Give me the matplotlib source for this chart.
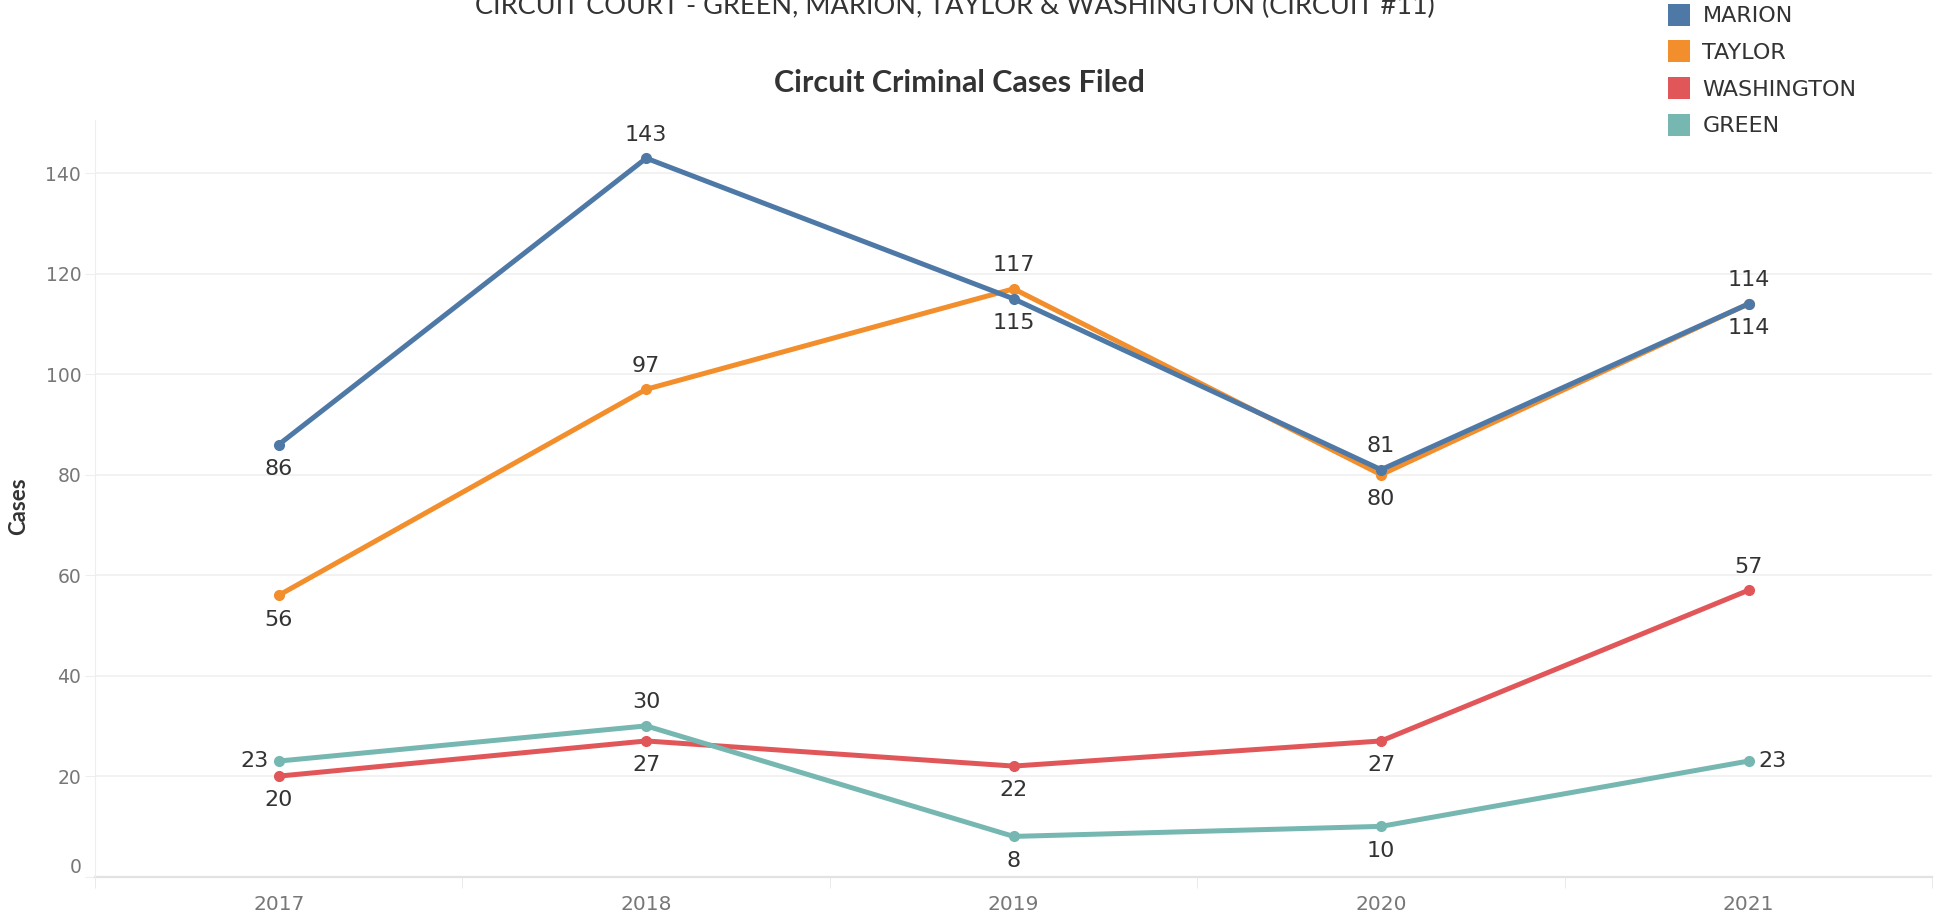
import matplotlib.pyplot as plt
from matplotlib.patches import Patch

# Datos
years = [2017, 2018, 2019, 2020, 2021]
marion = [86, 143, 115, 81, 114]
taylor = [56, 97, 117, 80, 114]
washington = [20, 27, 22, 27, 57]
green = [23, 30, 8, 10, 23]

series_names = ['MARION', 'TAYLOR', 'WASHINGTON', 'GREEN']
colores = {'MARION': '#4e79a7', 'TAYLOR': '#f28e2b',
           'WASHINGTON': '#e15759', 'GREEN': '#76b7b2'}
valores = {'MARION': marion, 'TAYLOR': taylor,
           'WASHINGTON': washington, 'GREEN': green}

# posicion de cada etiqueta: 'a' arriba, 'b' abajo, 'l' izquierda, 'r' derecha
pos_etiquetas = {
    'MARION': ['b', 'a', 'b', 'a', 'a'],
    'TAYLOR': ['b', 'a', 'a', 'b', 'b'],
    'WASHINGTON': ['b', 'b', 'b', 'b', 'a'],
    'GREEN': ['l', 'a', 'b', 'b', 'r'],
}
offsets = {'a': (0, 17, 'center', 'center'), 'b': (0, -17.5, 'center', 'center'),
           'l': (-7, 0, 'right', 'center'), 'r': (7, 0, 'left', 'center')}

fig = plt.figure(figsize=(19.4, 9.16), dpi=100)
ax = fig.add_axes([0.049, 0.043, 0.947, 0.826])

# orden de dibujo (Marion encima)
for nombre in ['WASHINGTON', 'GREEN', 'TAYLOR', 'MARION']:
    ys = valores[nombre]
    ax.plot(years, ys, color=colores[nombre], lw=3.6, marker='o', ms=7,
            solid_capstyle='round', zorder=3, clip_on=False)
    for x, y, p in zip(years, ys, pos_etiquetas[nombre]):
        dx, dy, ha, va = offsets[p]
        ax.annotate(str(y), (x, y), xytext=(dx, dy), textcoords='offset points',
                    ha=ha, va=va, fontsize=16, color='#333333', zorder=4)

ax.set_xlim(2016.5, 2021.5)
ax.set_ylim(0, 150.6)
ax.set_yticks(range(0, 141, 20))
ax.set_xticks(years)
ax.set_xticks([2016.5, 2017.5, 2018.5, 2019.5, 2020.5, 2021.5], minor=True)
ax.grid(axis='y', color='#f0f0f0', lw=1.2, zorder=0)

for lado in ['top', 'right']:
    ax.spines[lado].set_visible(False)
ax.spines['left'].set_color('#eeeeee')
ax.spines['bottom'].set_color('#e2e2e2')
ax.spines['bottom'].set_linewidth(1.6)
ax.spines['bottom'].set_zorder(2)

ax.tick_params(axis='y', length=7, color='#eeeeee', labelsize=13.5,
               labelcolor='#777777', pad=3)
ax.tick_params(axis='x', which='major', length=0, labelsize=14.5,
               labelcolor='#777777', pad=13)
ax.tick_params(axis='x', which='minor', length=8, color='#e6e6e6')
# la etiqueta 0 va un poco arriba como en el original
ax.yaxis.get_major_ticks()[0].label1.set_verticalalignment('bottom')

ax.set_ylabel('Cases', fontsize=16, fontweight='bold', color='#333333',
              family=['Lato', 'DejaVu Sans'])
ax.yaxis.set_label_coords(-0.036, 0.49)

fig.text(0.492, 0.993, 'CIRCUIT COURT - GREEN, MARION, TAYLOR & WASHINGTON (CIRCUIT #11)',
         ha='center', va='center', fontsize=19.5, color='#333333',
         family=['Lato', 'DejaVu Sans'])
fig.text(0.4945, 0.909, 'Circuit Criminal Cases Filed', ha='center', va='center',
         fontsize=22, fontweight='bold', color='#333333',
         family=['Lato', 'DejaVu Sans'])

handles = [Patch(facecolor=colores[n], label=n) for n in series_names]
fig.legend(handles=handles, loc='upper left', bbox_to_anchor=(0.8495, 1.018),
           frameon=False, fontsize=16, handlelength=1.0, handleheight=1.15,
           labelspacing=0.64, handletextpad=0.55, labelcolor='#333333')

fig.savefig('out.png', dpi=100)
